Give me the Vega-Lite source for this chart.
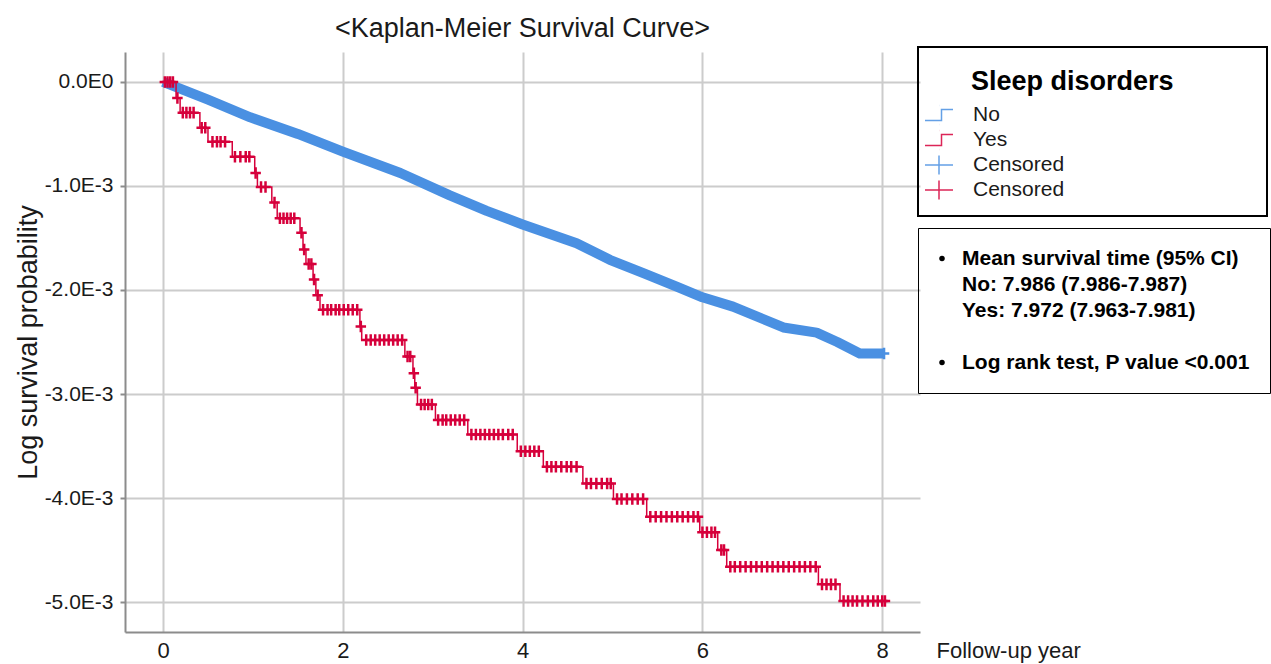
{
  "$schema": "https://vega.github.io/schema/vega-lite/v6.json",
  "width": 795,
  "height": 580,
  "autosize": "none",
  "padding": {"left": 125, "top": 52, "right": 351, "bottom": 32},
  "background": "white",
  "title": {"text": "<Kaplan-Meier Survival Curve>", "frame": "group", "anchor": "middle", "offset": 3, "fontSize": 27, "fontWeight": "normal", "color": "#1a1a1a"},
  "config": {
    "font": "Liberation Sans",
    "view": {"stroke": null},
    "axis": {"gridColor": "#cccccc", "gridWidth": 2, "domainColor": "#8c8c8c", "domainWidth": 2, "tickColor": "#8c8c8c", "tickWidth": 2, "labelColor": "#1a1a1a", "titleColor": "#1a1a1a", "titleFontWeight": "normal"}
  },
  "datasets": {
    "km": [
      {"group": "No", "t": 0, "v": 0},
      {"group": "No", "t": 0.5, "v": -0.00017},
      {"group": "No", "t": 0.97, "v": -0.00034},
      {"group": "No", "t": 1.5, "v": -0.0005},
      {"group": "No", "t": 2.0, "v": -0.00067},
      {"group": "No", "t": 2.64, "v": -0.000875},
      {"group": "No", "t": 3.19, "v": -0.00109},
      {"group": "No", "t": 3.6, "v": -0.00124},
      {"group": "No", "t": 4.0, "v": -0.00137},
      {"group": "No", "t": 4.6, "v": -0.00155},
      {"group": "No", "t": 4.97, "v": -0.00171},
      {"group": "No", "t": 5.35, "v": -0.00184},
      {"group": "No", "t": 5.72, "v": -0.00197},
      {"group": "No", "t": 6.0, "v": -0.00207},
      {"group": "No", "t": 6.34, "v": -0.00216},
      {"group": "No", "t": 6.9, "v": -0.00236},
      {"group": "No", "t": 7.27, "v": -0.00241},
      {"group": "No", "t": 7.5, "v": -0.0025},
      {"group": "No", "t": 7.75, "v": -0.00261},
      {"group": "No", "t": 8.01, "v": -0.00261},
      {"group": "Censored (No)", "t": 8.02, "v": -0.00261},
      {"group": "Yes", "t": 0, "v": 0},
      {"group": "Yes", "t": 0.145, "v": -0.000154},
      {"group": "Yes", "t": 0.19, "v": -0.000295},
      {"group": "Yes", "t": 0.41, "v": -0.00044},
      {"group": "Yes", "t": 0.5, "v": -0.000574},
      {"group": "Yes", "t": 0.77, "v": -0.00072},
      {"group": "Yes", "t": 1.02, "v": -0.000875},
      {"group": "Yes", "t": 1.05, "v": -0.00101},
      {"group": "Yes", "t": 1.21, "v": -0.00116},
      {"group": "Yes", "t": 1.27, "v": -0.00131},
      {"group": "Yes", "t": 1.524, "v": -0.00145},
      {"group": "Yes", "t": 1.557, "v": -0.00161},
      {"group": "Yes", "t": 1.59, "v": -0.00175},
      {"group": "Yes", "t": 1.669, "v": -0.0019},
      {"group": "Yes", "t": 1.7, "v": -0.00205},
      {"group": "Yes", "t": 1.746, "v": -0.00219},
      {"group": "Yes", "t": 2.19, "v": -0.00235},
      {"group": "Yes", "t": 2.21, "v": -0.00248},
      {"group": "Yes", "t": 2.69, "v": -0.00264},
      {"group": "Yes", "t": 2.78, "v": -0.0028},
      {"group": "Yes", "t": 2.8, "v": -0.00294},
      {"group": "Yes", "t": 2.83, "v": -0.0031},
      {"group": "Yes", "t": 3.03, "v": -0.00325},
      {"group": "Yes", "t": 3.39, "v": -0.00339},
      {"group": "Yes", "t": 3.94, "v": -0.00355},
      {"group": "Yes", "t": 4.23, "v": -0.0037},
      {"group": "Yes", "t": 4.67, "v": -0.00386},
      {"group": "Yes", "t": 5.01, "v": -0.00401},
      {"group": "Yes", "t": 5.38, "v": -0.00418},
      {"group": "Yes", "t": 5.97, "v": -0.00433},
      {"group": "Yes", "t": 6.17, "v": -0.0045},
      {"group": "Yes", "t": 6.27, "v": -0.00466},
      {"group": "Yes", "t": 7.29, "v": -0.00483},
      {"group": "Yes", "t": 7.53, "v": -0.00499},
      {"group": "Yes", "t": 8.03, "v": -0.00499},
      {"group": "Censored (Yes)", "t": 0.02, "v": 0},
      {"group": "Censored (Yes)", "t": 0.05, "v": 0},
      {"group": "Censored (Yes)", "t": 0.08, "v": 0},
      {"group": "Censored (Yes)", "t": 0.11, "v": 0},
      {"group": "Censored (Yes)", "t": 0.16, "v": -0.000154},
      {"group": "Censored (Yes)", "t": 0.22, "v": -0.000295},
      {"group": "Censored (Yes)", "t": 0.26, "v": -0.000295},
      {"group": "Censored (Yes)", "t": 0.3, "v": -0.000295},
      {"group": "Censored (Yes)", "t": 0.34, "v": -0.000295},
      {"group": "Censored (Yes)", "t": 0.43, "v": -0.00044},
      {"group": "Censored (Yes)", "t": 0.47, "v": -0.00044},
      {"group": "Censored (Yes)", "t": 0.55, "v": -0.000574},
      {"group": "Censored (Yes)", "t": 0.6, "v": -0.000574},
      {"group": "Censored (Yes)", "t": 0.64, "v": -0.000574},
      {"group": "Censored (Yes)", "t": 0.69, "v": -0.000574},
      {"group": "Censored (Yes)", "t": 0.8, "v": -0.00072},
      {"group": "Censored (Yes)", "t": 0.86, "v": -0.00072},
      {"group": "Censored (Yes)", "t": 0.92, "v": -0.00072},
      {"group": "Censored (Yes)", "t": 0.96, "v": -0.00072},
      {"group": "Censored (Yes)", "t": 1.03, "v": -0.000875},
      {"group": "Censored (Yes)", "t": 1.09, "v": -0.00101},
      {"group": "Censored (Yes)", "t": 1.14, "v": -0.00101},
      {"group": "Censored (Yes)", "t": 1.24, "v": -0.00116},
      {"group": "Censored (Yes)", "t": 1.3, "v": -0.00131},
      {"group": "Censored (Yes)", "t": 1.34, "v": -0.00131},
      {"group": "Censored (Yes)", "t": 1.38, "v": -0.00131},
      {"group": "Censored (Yes)", "t": 1.42, "v": -0.00131},
      {"group": "Censored (Yes)", "t": 1.46, "v": -0.00131},
      {"group": "Censored (Yes)", "t": 1.54, "v": -0.00145},
      {"group": "Censored (Yes)", "t": 1.57, "v": -0.00161},
      {"group": "Censored (Yes)", "t": 1.62, "v": -0.00175},
      {"group": "Censored (Yes)", "t": 1.65, "v": -0.00175},
      {"group": "Censored (Yes)", "t": 1.68, "v": -0.0019},
      {"group": "Censored (Yes)", "t": 1.72, "v": -0.00205},
      {"group": "Censored (Yes)", "t": 1.78, "v": -0.00219},
      {"group": "Censored (Yes)", "t": 1.83, "v": -0.00219},
      {"group": "Censored (Yes)", "t": 1.87, "v": -0.00219},
      {"group": "Censored (Yes)", "t": 1.92, "v": -0.00219},
      {"group": "Censored (Yes)", "t": 1.96, "v": -0.00219},
      {"group": "Censored (Yes)", "t": 2.01, "v": -0.00219},
      {"group": "Censored (Yes)", "t": 2.06, "v": -0.00219},
      {"group": "Censored (Yes)", "t": 2.11, "v": -0.00219},
      {"group": "Censored (Yes)", "t": 2.16, "v": -0.00219},
      {"group": "Censored (Yes)", "t": 2.2, "v": -0.00235},
      {"group": "Censored (Yes)", "t": 2.26, "v": -0.00248},
      {"group": "Censored (Yes)", "t": 2.31, "v": -0.00248},
      {"group": "Censored (Yes)", "t": 2.36, "v": -0.00248},
      {"group": "Censored (Yes)", "t": 2.41, "v": -0.00248},
      {"group": "Censored (Yes)", "t": 2.46, "v": -0.00248},
      {"group": "Censored (Yes)", "t": 2.51, "v": -0.00248},
      {"group": "Censored (Yes)", "t": 2.56, "v": -0.00248},
      {"group": "Censored (Yes)", "t": 2.61, "v": -0.00248},
      {"group": "Censored (Yes)", "t": 2.66, "v": -0.00248},
      {"group": "Censored (Yes)", "t": 2.72, "v": -0.00264},
      {"group": "Censored (Yes)", "t": 2.75, "v": -0.00264},
      {"group": "Censored (Yes)", "t": 2.79, "v": -0.0028},
      {"group": "Censored (Yes)", "t": 2.81, "v": -0.00294},
      {"group": "Censored (Yes)", "t": 2.87, "v": -0.0031},
      {"group": "Censored (Yes)", "t": 2.91, "v": -0.0031},
      {"group": "Censored (Yes)", "t": 2.95, "v": -0.0031},
      {"group": "Censored (Yes)", "t": 2.99, "v": -0.0031},
      {"group": "Censored (Yes)", "t": 3.06, "v": -0.00325},
      {"group": "Censored (Yes)", "t": 3.11, "v": -0.00325},
      {"group": "Censored (Yes)", "t": 3.15, "v": -0.00325},
      {"group": "Censored (Yes)", "t": 3.2, "v": -0.00325},
      {"group": "Censored (Yes)", "t": 3.25, "v": -0.00325},
      {"group": "Censored (Yes)", "t": 3.3, "v": -0.00325},
      {"group": "Censored (Yes)", "t": 3.35, "v": -0.00325},
      {"group": "Censored (Yes)", "t": 3.43, "v": -0.00339},
      {"group": "Censored (Yes)", "t": 3.48, "v": -0.00339},
      {"group": "Censored (Yes)", "t": 3.53, "v": -0.00339},
      {"group": "Censored (Yes)", "t": 3.58, "v": -0.00339},
      {"group": "Censored (Yes)", "t": 3.63, "v": -0.00339},
      {"group": "Censored (Yes)", "t": 3.68, "v": -0.00339},
      {"group": "Censored (Yes)", "t": 3.73, "v": -0.00339},
      {"group": "Censored (Yes)", "t": 3.78, "v": -0.00339},
      {"group": "Censored (Yes)", "t": 3.84, "v": -0.00339},
      {"group": "Censored (Yes)", "t": 3.89, "v": -0.00339},
      {"group": "Censored (Yes)", "t": 3.98, "v": -0.00355},
      {"group": "Censored (Yes)", "t": 4.03, "v": -0.00355},
      {"group": "Censored (Yes)", "t": 4.08, "v": -0.00355},
      {"group": "Censored (Yes)", "t": 4.13, "v": -0.00355},
      {"group": "Censored (Yes)", "t": 4.18, "v": -0.00355},
      {"group": "Censored (Yes)", "t": 4.27, "v": -0.0037},
      {"group": "Censored (Yes)", "t": 4.32, "v": -0.0037},
      {"group": "Censored (Yes)", "t": 4.37, "v": -0.0037},
      {"group": "Censored (Yes)", "t": 4.43, "v": -0.0037},
      {"group": "Censored (Yes)", "t": 4.49, "v": -0.0037},
      {"group": "Censored (Yes)", "t": 4.54, "v": -0.0037},
      {"group": "Censored (Yes)", "t": 4.6, "v": -0.0037},
      {"group": "Censored (Yes)", "t": 4.71, "v": -0.00386},
      {"group": "Censored (Yes)", "t": 4.76, "v": -0.00386},
      {"group": "Censored (Yes)", "t": 4.82, "v": -0.00386},
      {"group": "Censored (Yes)", "t": 4.88, "v": -0.00386},
      {"group": "Censored (Yes)", "t": 4.94, "v": -0.00386},
      {"group": "Censored (Yes)", "t": 4.98, "v": -0.00386},
      {"group": "Censored (Yes)", "t": 5.05, "v": -0.00401},
      {"group": "Censored (Yes)", "t": 5.1, "v": -0.00401},
      {"group": "Censored (Yes)", "t": 5.16, "v": -0.00401},
      {"group": "Censored (Yes)", "t": 5.22, "v": -0.00401},
      {"group": "Censored (Yes)", "t": 5.28, "v": -0.00401},
      {"group": "Censored (Yes)", "t": 5.34, "v": -0.00401},
      {"group": "Censored (Yes)", "t": 5.42, "v": -0.00418},
      {"group": "Censored (Yes)", "t": 5.48, "v": -0.00418},
      {"group": "Censored (Yes)", "t": 5.54, "v": -0.00418},
      {"group": "Censored (Yes)", "t": 5.6, "v": -0.00418},
      {"group": "Censored (Yes)", "t": 5.66, "v": -0.00418},
      {"group": "Censored (Yes)", "t": 5.72, "v": -0.00418},
      {"group": "Censored (Yes)", "t": 5.78, "v": -0.00418},
      {"group": "Censored (Yes)", "t": 5.84, "v": -0.00418},
      {"group": "Censored (Yes)", "t": 5.9, "v": -0.00418},
      {"group": "Censored (Yes)", "t": 5.95, "v": -0.00418},
      {"group": "Censored (Yes)", "t": 6.0, "v": -0.00433},
      {"group": "Censored (Yes)", "t": 6.05, "v": -0.00433},
      {"group": "Censored (Yes)", "t": 6.1, "v": -0.00433},
      {"group": "Censored (Yes)", "t": 6.14, "v": -0.00433},
      {"group": "Censored (Yes)", "t": 6.21, "v": -0.0045},
      {"group": "Censored (Yes)", "t": 6.24, "v": -0.0045},
      {"group": "Censored (Yes)", "t": 6.31, "v": -0.00466},
      {"group": "Censored (Yes)", "t": 6.36, "v": -0.00466},
      {"group": "Censored (Yes)", "t": 6.42, "v": -0.00466},
      {"group": "Censored (Yes)", "t": 6.48, "v": -0.00466},
      {"group": "Censored (Yes)", "t": 6.54, "v": -0.00466},
      {"group": "Censored (Yes)", "t": 6.6, "v": -0.00466},
      {"group": "Censored (Yes)", "t": 6.66, "v": -0.00466},
      {"group": "Censored (Yes)", "t": 6.72, "v": -0.00466},
      {"group": "Censored (Yes)", "t": 6.78, "v": -0.00466},
      {"group": "Censored (Yes)", "t": 6.84, "v": -0.00466},
      {"group": "Censored (Yes)", "t": 6.9, "v": -0.00466},
      {"group": "Censored (Yes)", "t": 6.96, "v": -0.00466},
      {"group": "Censored (Yes)", "t": 7.02, "v": -0.00466},
      {"group": "Censored (Yes)", "t": 7.08, "v": -0.00466},
      {"group": "Censored (Yes)", "t": 7.14, "v": -0.00466},
      {"group": "Censored (Yes)", "t": 7.2, "v": -0.00466},
      {"group": "Censored (Yes)", "t": 7.26, "v": -0.00466},
      {"group": "Censored (Yes)", "t": 7.33, "v": -0.00483},
      {"group": "Censored (Yes)", "t": 7.38, "v": -0.00483},
      {"group": "Censored (Yes)", "t": 7.43, "v": -0.00483},
      {"group": "Censored (Yes)", "t": 7.48, "v": -0.00483},
      {"group": "Censored (Yes)", "t": 7.57, "v": -0.00499},
      {"group": "Censored (Yes)", "t": 7.62, "v": -0.00499},
      {"group": "Censored (Yes)", "t": 7.67, "v": -0.00499},
      {"group": "Censored (Yes)", "t": 7.72, "v": -0.00499},
      {"group": "Censored (Yes)", "t": 7.78, "v": -0.00499},
      {"group": "Censored (Yes)", "t": 7.84, "v": -0.00499},
      {"group": "Censored (Yes)", "t": 7.9, "v": -0.00499},
      {"group": "Censored (Yes)", "t": 7.95, "v": -0.00499},
      {"group": "Censored (Yes)", "t": 8.0, "v": -0.00499},
      {"group": "Censored (Yes)", "t": 8.03, "v": -0.00499}
    ],
    "notes": [
      {"note": "Mean survival time (95% CI)"},
      {"note": "No: 7.986 (7.986-7.987)"},
      {"note": "Yes: 7.972 (7.963-7.981)"},
      {"note": "\u2800"},
      {"note": "Log rank test, P value <0.001"}
    ]
  },
  "layer": [
    {
      "data": {"name": "km"},
      "transform": [{"filter": "datum.group === 'No'"}],
      "mark": {"type": "line", "strokeWidth": 10, "strokeCap": "butt", "strokeJoin": "round"},
      "encoding": {
        "x": {"field": "t", "type": "quantitative", "scale": {"domain": [-0.423, 8.42], "nice": false, "zero": false},
              "axis": {"values": [0, 2, 4, 6, 8], "format": "d", "grid": true, "ticks": false, "labelPadding": 8, "labelFontSize": 22, "title": "Follow-up year", "titleFontSize": 22, "titleX": 811, "titleY": 8, "titleAlign": "left", "titleBaseline": "top", "titleAngle": 0}},
        "y": {"field": "v", "type": "quantitative", "scale": {"domain": [-0.005288, 0.000288], "nice": false, "zero": false},
              "axis": {"values": [0, -0.001, -0.002, -0.003, -0.004, -0.005], "grid": true, "tickSize": 5, "labelPadding": 7, "labelFontSize": 21,
                       "labelExpr": "replace(replace(replace(format(datum.value, '.1e'), 'e+', 'E'), 'e', 'E'), '\u2212', '-')",
                       "title": "Log survival probability", "titleFontSize": 27, "titleX": -97, "titleY": 290, "titleAngle": -90, "titleAlign": "center", "titleBaseline": "middle"}},
        "color": {"field": "group", "type": "nominal",
                  "scale": {"domain": ["No", "Yes", "Censored (No)", "Censored (Yes)"], "range": ["#4a90e2", "#d6003b", "#4a90e2", "#d6003b"]},
                  "legend": {
                    "title": "\u2800\u2800Sleep disorders\u2800\u2800\u2800\u2800",
                    "orient": "none", "legendX": 793, "legendY": -5,
                    "padding": 13, "strokeColor": "black",
                    "titleFontSize": 27, "titleFontWeight": "bold", "titleColor": "black", "titleLimit": 600, "titlePadding": 17,
                    "labelFontSize": 21, "labelColor": "#1a1a1a", "labelLimit": 400, "labelOffset": 23,
                    "symbolSize": 400, "symbolOffset": -3, "symbolStrokeWidth": 1.5, "rowPadding": -1,
                    "labelExpr": "indexof(datum.label, 'Censored') === 0 ? 'Censored' : datum.label",
                    "encode": {
                      "title": {"update": {"dy": {"value": 9}}},
                      "symbols": {"update": {
                        "shape": {"signal": "(datum.value === 'No' || datum.value === 'Yes') ? 'M-1.4,0.55H0.25V-0.55H1.4M0,-0.95h0.01M0,0.95h0.01' : 'M-1.4,0H1.4M0,-0.95V0.95'"},
                        "fill": {"value": "transparent"},
                        "strokeWidth": {"value": 1.5},
                        "opacity": {"value": 0.85}
                      }},
                      "legend": {"update": {"strokeWidth": {"value": 2}}}
                    }
                  }}
      }
    },
    {
      "data": {"name": "km"},
      "transform": [{"filter": "datum.group === 'Yes'"}],
      "mark": {"type": "line", "strokeWidth": 1.5, "interpolate": "step-after"},
      "encoding": {
        "x": {"field": "t", "type": "quantitative"},
        "y": {"field": "v", "type": "quantitative"},
        "color": {"field": "group", "type": "nominal"}
      }
    },
    {
      "data": {"name": "km"},
      "transform": [{"filter": "indexof(datum.group, 'Censored') === 0"}],
      "mark": {"type": "point", "shape": "M-1,0H1M0,-1.1V1.1", "size": 110, "strokeWidth": 2.5, "filled": false, "opacity": 1},
      "encoding": {
        "x": {"field": "t", "type": "quantitative"},
        "y": {"field": "v", "type": "quantitative"},
        "color": {"field": "group", "type": "nominal"}
      }
    },
    {
      "data": {"name": "notes"},
      "mark": {"type": "point", "filled": true, "color": "black", "opacity": 0},
      "encoding": {
        "shape": {"field": "note", "type": "nominal",
                  "scale": {"domain": ["Mean survival time (95% CI)", "No: 7.986 (7.986-7.987)", "Yes: 7.972 (7.963-7.981)", "\u2800", "Log rank test, P value <0.001"], "range": ["circle", "M0,0", "M0,0", "M0,0", "circle"]},
                  "legend": {
                    "title": null, "orient": "none", "legendX": 793, "legendY": 176,
                    "padding": 20, "strokeColor": "black",
                    "labelFontSize": 21, "labelFontWeight": "bold", "labelColor": "black", "labelLimit": 500, "labelOffset": 9.5,
                    "symbolSize": 30, "symbolOffset": -6.5, "symbolFillColor": "black", "symbolStrokeWidth": 0, "rowPadding": 4,
                    "encode": {
                      "legend": {"update": {"strokeWidth": {"value": 2}}}
                    }
                  }}
      }
    }
  ]
}
